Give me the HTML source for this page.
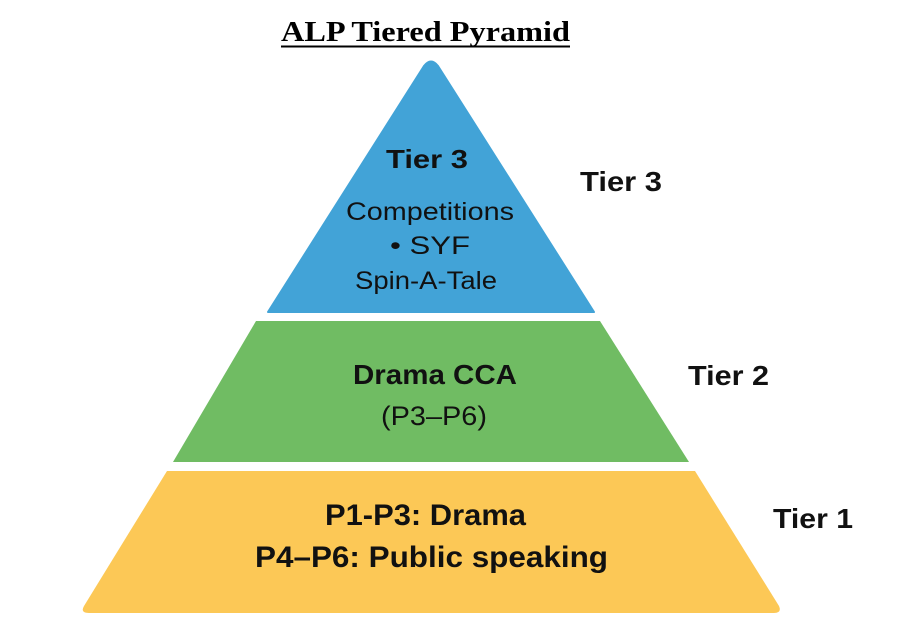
<!DOCTYPE html>
<html><head><meta charset="utf-8"><style>body{margin:0;background:#fff}svg{display:block}</style></head><body>
<svg width="919" height="639" viewBox="0 0 919 639" xmlns="http://www.w3.org/2000/svg">
<rect width="919" height="639" fill="#fff"/>
<text x="425.5" y="41" font-family="Liberation Serif, serif" font-weight="bold" font-size="29" text-anchor="middle" fill="#000" textLength="289" lengthAdjust="spacingAndGlyphs">ALP Tiered Pyramid</text>
<line x1="281" y1="46.5" x2="570" y2="46.5" stroke="#000" stroke-width="2"/>
<path d="M268,312 L424,66 Q431,57 438,66 L594,312 Z" fill="#42A3D7" stroke="#42A3D7" stroke-linejoin="round" stroke-width="2"/>
<path d="M256,321 L600,321 L689,462 L173,462 Z" fill="#70BC63"/>
<path d="M167,471 L695,471 L779,606 Q782,613 774,613 L89,613 Q80,613 84,606 Z" fill="#FCC856"/>
<g font-family="Liberation Sans, DejaVu Sans, sans-serif" fill="#111" text-anchor="middle" lengthAdjust="spacingAndGlyphs">
<text x="427" y="168" font-size="26" font-weight="bold" textLength="82" lengthAdjust="spacingAndGlyphs">Tier 3</text>
<text x="430" y="220" font-size="25" textLength="168" lengthAdjust="spacingAndGlyphs">Competitions</text>
<text x="430" y="254" font-size="25" textLength="80" lengthAdjust="spacingAndGlyphs">• SYF</text>
<text x="426" y="289" font-size="25" textLength="142" lengthAdjust="spacingAndGlyphs">Spin-A-Tale</text>
<text x="435" y="384" font-size="28" font-weight="bold" textLength="164" lengthAdjust="spacingAndGlyphs">Drama CCA</text>
<text x="434" y="425" font-size="27" textLength="106" lengthAdjust="spacingAndGlyphs">(P3–P6)</text>
<text x="425.5" y="525" font-size="30" font-weight="bold" textLength="201" lengthAdjust="spacingAndGlyphs">P1-P3: Drama</text>
<text x="431.5" y="567" font-size="30" font-weight="bold" textLength="353" lengthAdjust="spacingAndGlyphs">P4–P6: Public speaking</text>
<text x="621" y="191" font-size="28" font-weight="bold" textLength="82" lengthAdjust="spacingAndGlyphs">Tier 3</text>
<text x="728.5" y="385" font-size="28" font-weight="bold" textLength="81" lengthAdjust="spacingAndGlyphs">Tier 2</text>
<text x="813" y="528" font-size="28" font-weight="bold" textLength="80" lengthAdjust="spacingAndGlyphs">Tier 1</text>
</g>
</svg>
</body></html>
